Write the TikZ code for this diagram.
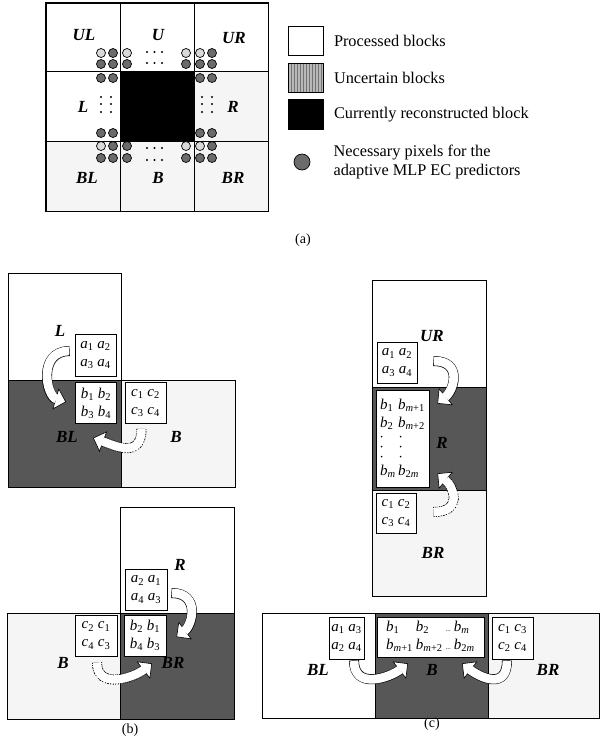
\documentclass[tikz,border=0pt]{standalone}
\usepackage{fontspec}
\setmainfont{Liberation Serif}
\usetikzlibrary{arrows.meta, positioning, calc, patterns}

\newcommand{\pix}[2]{\textit{#1}\textsubscript{#2}}

\tikzset{
  blocknode/.style={
    rectangle, draw=black, line width=0.8pt,
    anchor=north west, inner sep=0pt
  },
  procblock/.style={blocknode, fill=white},
  uncblock/.style={blocknode, fill=black!4},
  curblock/.style={blocknode, fill=black!66},
  pixbox/.style={
    rectangle, draw=black, line width=0.8pt, fill=white,
    inner sep=1pt, align=center,
    font=\fontsize{15}{18}\selectfont
  },
  blocklabel/.style={font=\fontsize{17}{19}\selectfont\bfseries\itshape, inner sep=0pt},
  legendtext/.style={font=\fontsize{16.3}{19}\selectfont, inner sep=0pt, align=left},
  caplabel/.style={font=\fontsize{14}{16}\selectfont, inner sep=0pt},
  pixdot/.style={circle, draw=black, line width=0.7pt, fill=black!58,
    minimum size=9pt, inner sep=0pt},
  pixdotlight/.style={pixdot, fill=black!15},
  bendarrow/.style={
    line width=10pt, draw=black,
    -{Triangle[line width=0.6pt, fill=white, length=11pt, width=22pt]},
    postaction={draw=white, line width=8.8pt, arrows=-, shorten >=10pt, shorten <=0.6pt}
  },
  dotbendarrow/.style={
    line width=10pt, draw=black, dash pattern=on 1pt off 1.2pt,
    -{Triangle[line width=0.6pt, fill=white, length=11pt, width=22pt]},
    postaction={draw=white, solid, line width=8.4pt, arrows=-, shorten >=10pt}
  }
}

\begin{document}
\begin{tikzpicture}[x=1pt, y=-1pt]
  \useasboundingbox (0,0) rectangle (600,737);

  % (a) block grid
  \node[procblock, minimum width=74pt, minimum height=68pt] (gUL) at (46,3) {};
  \node[procblock, minimum width=74pt, minimum height=68pt] (gU) at (120,3) {};
  \node[procblock, minimum width=74pt, minimum height=68pt] (gUR) at (194,3) {};
  \node[procblock, minimum width=74pt, minimum height=70pt] (gL) at (46,71) {};
  \node[blocknode, fill=black, minimum width=74pt, minimum height=70pt] (gC) at (120,71) {};
  \node[uncblock, minimum width=74pt, minimum height=70pt] (gR) at (194,71) {};
  \node[uncblock, minimum width=74pt, minimum height=70pt] (gBL) at (46,141) {};
  \node[uncblock, minimum width=74pt, minimum height=70pt] (gB) at (120,141) {};
  \node[uncblock, minimum width=74pt, minimum height=70pt] (gBR) at (194,141) {};
  \draw[line width=1.2pt] (gUL.north west) rectangle (gBR.south east);

  \node[blocklabel] (tUL) at (84,35) {UL};
  \node[blocklabel] (tU) at (158,35) {U};
  \node[blocklabel] (tUR) at (234,38) {UR};
  \node[blocklabel] (tL) at (83,107) {L};
  \node[blocklabel] (tR) at (233,107) {R};
  \node[blocklabel] (tBL) at (87,178) {BL};
  \node[blocklabel] (tB) at (158,178) {B};
  \node[blocklabel] (tBR) at (233,178) {BR};

  % necessary pixels
  \foreach \x/\y in {113/53, 101/64, 113/64, 127/64, 101/78, 113/78,
                     212/53, 186/64, 200/64, 212/64, 200/78, 212/78,
                     101/133, 113/133, 113/146, 127/146, 101/158, 113/158, 127/158,
                     200/133, 212/133, 212/146, 186/158, 200/158, 212/158}
    \node[pixdot] (p\x-\y) at (\x,\y) {};
  \foreach \x/\y in {101/53, 127/53, 186/53, 200/53, 101/146, 186/146, 200/146}
    \node[pixdotlight] (p\x-\y) at (\x,\y) {};

  \foreach \x in {147,154.5,162} {
    \foreach \y in {52,63,148,160}
      \fill (\x,\y) circle[radius=1.1];
  }
  \foreach \x in {101,111,202,212} {
    \foreach \y in {97,104,112}
      \fill (\x,\y) circle[radius=1.1];
  }

  % legend
  \node[procblock, minimum width=35pt, minimum height=29pt] (legProc) at (288,26) {};
  \node[blocknode, minimum width=35pt, minimum height=29pt,
        preaction={fill=black!28}, pattern=vertical lines, pattern color=black!55] (legUnc) at (288,63) {};
  \node[blocknode, fill=black, minimum width=35pt, minimum height=30pt] (legCur) at (288,99) {};
  \node[pixdot, minimum size=16pt] (legPix) at (302,162) {};
  \node[legendtext, right=10pt of legProc] (txtProc) {Processed blocks};
  \node[legendtext, right=10pt of legUnc] (txtUnc) {Uncertain blocks};
  \node[legendtext, right=10pt of legCur] (txtCur) {Currently reconstructed block};
  \node[legendtext, right=23pt of legPix] (txtPix) {Necessary pixels for the\\adaptive MLP EC predictors};

  \node[caplabel] (capA) at (303,240) {(a)};

  % (b) upper: L above BL
  \node[procblock, minimum width=113pt, minimum height=107pt] (b1L) at (8,273) {};
  \node[curblock, minimum width=113pt, minimum height=107pt] (b1BL) at (8,380) {};
  \node[uncblock, minimum width=114pt, minimum height=107pt] (b1B) at (121,380) {};
  \node[pixbox, minimum width=41pt, minimum height=42pt] (b1a) at (95.5,355)
    {\pix{a}{1} \pix{a}{2}\\\pix{a}{3} \pix{a}{4}};
  \node[pixbox, minimum width=41pt, minimum height=41pt] (b1b) at (96,403)
    {\pix{b}{1} \pix{b}{2}\\\pix{b}{3} \pix{b}{4}};
  \node[pixbox, minimum width=41pt, minimum height=41pt] (b1c) at (145.5,403)
    {\pix{c}{1} \pix{c}{2}\\\pix{c}{3} \pix{c}{4}};
  \node[blocklabel] (b1tL) at (60,331) {L};
  \node[blocklabel] (b1tBL) at (67,437) {BL};
  \node[blocklabel] (b1tB) at (176,437) {B};
  \draw[bendarrow] ($(b1a.west)+(-5,-4)$) .. controls +(-32,0) and +(-20,-6) .. ($(b1b.west)+(-9,-1)$);
  \draw[dotbendarrow] ($(b1c.south)+(-4,5)$) .. controls +(0,30) and +(22,8) .. ($(b1b.south)+(-3,14)$);

  % (b) lower: R above BR
  \node[procblock, minimum width=114pt, minimum height=106pt] (b2R) at (120,507) {};
  \node[uncblock, minimum width=113pt, minimum height=106pt] (b2B) at (7,613) {};
  \node[curblock, minimum width=114pt, minimum height=106pt] (b2BR) at (120,613) {};
  \node[pixbox, minimum width=42pt, minimum height=41pt] (b2a) at (146,589.5)
    {\pix{a}{2} \pix{a}{1}\\\pix{a}{4} \pix{a}{3}};
  \node[pixbox, minimum width=42pt, minimum height=41pt] (b2c) at (96,635.5)
    {\pix{c}{2} \pix{c}{1}\\\pix{c}{4} \pix{c}{3}};
  \node[pixbox, minimum width=42pt, minimum height=41pt] (b2b) at (145,635.5)
    {\pix{b}{2} \pix{b}{1}\\\pix{b}{4} \pix{b}{3}};
  \node[blocklabel] (b2tR) at (180,565) {R};
  \node[blocklabel] (b2tB) at (63,663) {B};
  \node[blocklabel] (b2tBR) at (173,663) {BR};
  \draw[bendarrow] ($(b2a.east)+(4,3.5)$) .. controls +(29,0) and +(16,-12) .. ($(b2b.east)+(10,1.5)$);
  \draw[dotbendarrow] ($(b2c.south)+(1,6)$) .. controls +(0,28) and +(-18,14) .. ($(b2b.south)+(7,7)$);
  \node[caplabel] (capB) at (130,730) {(b)};

  % (c) right: UR, R, BR column
  \node[procblock, minimum width=114pt, minimum height=107pt] (c1UR) at (372,280) {};
  \node[curblock, minimum width=114pt, minimum height=103pt] (c1R) at (372,387) {};
  \node[uncblock, minimum width=114pt, minimum height=106pt] (c1BR) at (372,490) {};
  \node[pixbox, minimum width=40pt, minimum height=41pt] (c1a) at (397,362.5)
    {\pix{a}{1} \pix{a}{2}\\\pix{a}{3} \pix{a}{4}};
  \node[pixbox, minimum width=53pt, minimum height=97pt] (c1b) at (402.5,438.5) {%
    \begin{tabular}{@{}l@{\,}l@{}}
      \pix{b}{1} & \pix{b}{\textit{m}+1}\\
      \pix{b}{2} & \pix{b}{\textit{m}+2}\\[30pt]
      \pix{b}{\textit{m}} & \pix{b}{2\textit{m}}
    \end{tabular}};
  \foreach \dx in {6,25} {
    \foreach \dy in {47,57,67}
      \fill ($(c1b.north west)+(\dx,\dy)$) circle[radius=0.9];
  }
  \node[pixbox, minimum width=40pt, minimum height=40pt] (c1c) at (396,513)
    {\pix{c}{1} \pix{c}{2}\\\pix{c}{3} \pix{c}{4}};
  \node[blocklabel] (c1tUR) at (432,336) {UR};
  \node[blocklabel] (c1tR) at (442,443) {R};
  \node[blocklabel] (c1tBR) at (433,553) {BR};
  \draw[bendarrow] ($(c1a.east)+(16,-1.5)$) .. controls +(29,0) and +(17,-14) .. ($(c1b.north east)+(8,14)$);
  \draw[dotbendarrow] ($(c1c.east)+(17,-1)$) .. controls +(29,0) and +(17,14) .. ($(c1b.south east)+(8,-14)$);

  % (c) bottom: BL, B, BR row
  \node[procblock, minimum width=113pt, minimum height=105pt] (c2BL) at (262,613) {};
  \node[curblock, minimum width=113pt, minimum height=105pt] (c2B) at (375,613) {};
  \node[uncblock, minimum width=111pt, minimum height=105pt] (c2BR) at (488,613) {};
  \node[pixbox, minimum width=35pt, minimum height=42pt] (c2a) at (346.5,638)
    {\pix{a}{1} \pix{a}{3}\\\pix{a}{2} \pix{a}{4}};
  \node[pixbox, minimum width=107pt, minimum height=40pt] (c2b) at (430.5,637) {%
    \begin{tabular}{@{}l@{\hspace{3pt}}l@{\hspace{3pt}}c@{\hspace{3pt}}l@{}}
      \pix{b}{1} & \pix{b}{2} & {\fontsize{7}{8}\selectfont...} & \pix{b}{\textit{m}}\\
      \pix{b}{\textit{m}+1} & \pix{b}{\textit{m}+2} & {\fontsize{7}{8}\selectfont...} & \pix{b}{2\textit{m}}
    \end{tabular}};
  \node[pixbox, minimum width=41pt, minimum height=42pt] (c2c) at (512.5,638)
    {\pix{c}{1} \pix{c}{3}\\\pix{c}{2} \pix{c}{4}};
  \node[blocklabel] (c2tBL) at (318,670) {BL};
  \node[blocklabel] (c2tB) at (432,670) {B};
  \node[blocklabel] (c2tBR) at (548,670) {BR};
  \draw[bendarrow] ($(c2a.south)+(7.5,1)$) .. controls +(0,30) and +(-18,14) .. ($(c2b.south)+(-22.5,6)$);
  \draw[bendarrow] ($(c2c.south)+(-5.5,1)$) .. controls +(0,30) and +(18,14) .. ($(c2b.south)+(31.5,6)$);
  \node[caplabel] (capC) at (432,724) {(c)};

\end{tikzpicture}
\end{document}
